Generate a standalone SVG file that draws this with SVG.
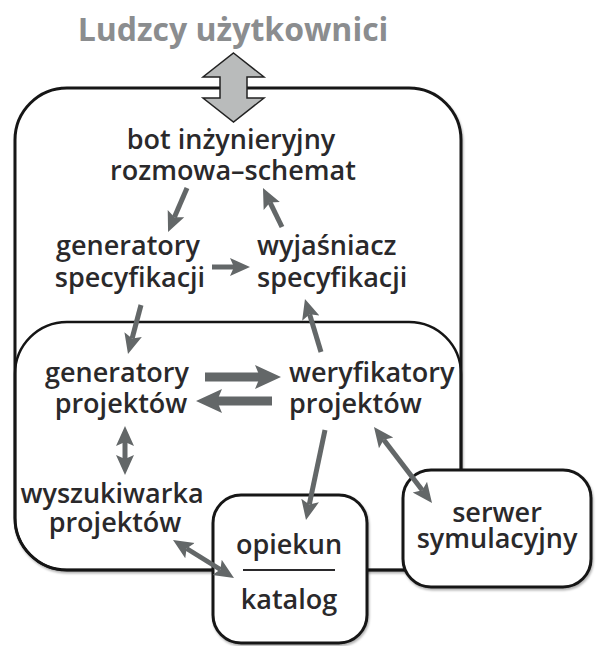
<svg xmlns="http://www.w3.org/2000/svg" width="596" height="646" viewBox="0 0 596 646">
<style>
  .t{font-family:"Open Sans","Liberation Sans",sans-serif;font-weight:600;font-size:27px;fill:#2a292b}
  .m{text-anchor:middle}
  .box{fill:#ffffff;stroke:#151515;stroke-width:3}
  .c{stroke:#636768;stroke-width:5;fill:none}
  .cb{stroke:#636768;stroke-width:9;fill:none}
</style>
<defs>
  <filter id="sh" x="-5%" y="-5%" width="110%" height="110%">
    <feDropShadow dx="1" dy="2" stdDeviation="1.2" flood-color="#000" flood-opacity="0.3"/>
  </filter>
  <marker id="ah" markerUnits="userSpaceOnUse" markerWidth="22" markerHeight="22" refX="4" refY="10" orient="auto-start-reverse">
    <path d="M0,1 L20,10 L0,19 L4,10 z" fill="#636768"/>
  </marker>
  <marker id="ahb" markerUnits="userSpaceOnUse" markerWidth="28" markerHeight="26" refX="5" refY="12" orient="auto-start-reverse">
    <path d="M0,0 L26,12 L0,24 L5,12 z" fill="#636768"/>
  </marker>
</defs>
<rect width="596" height="646" fill="#ffffff"/>

<g id="system">
  <rect class="box" x="15" y="88" width="446" height="482" rx="52" ry="52" filter="url(#sh)"/>
</g>
<g id="design-zone">
  <rect x="15" y="322" width="446" height="248" rx="52" ry="52" fill="none" stroke="#151515" stroke-width="2.5"/>
</g>

<g id="users">
  <text x="233" y="41" text-anchor="middle" font-family="'Open Sans','Liberation Sans',sans-serif" font-weight="700" font-size="32" fill="#8b8d8f">Ludzcy użytkownici</text>
  <polygon points="233.5,53 264,77 247,77 247,98 264,98 233.5,122 203,98 220,98 220,77 203,77" fill="#b9bbbb" stroke="#222" stroke-width="1.5" stroke-linejoin="miter"/>
</g>

<g id="bot">
  <text class="t m"><tspan x="231" y="149">bot inżynieryjny</tspan><tspan x="233" y="180">rozmowa–schemat</tspan></text>
</g>
<g id="spec-gen">
  <text class="t m"><tspan x="128" y="255">generatory</tspan><tspan x="130" y="287">specyfikacji</tspan></text>
</g>
<g id="spec-explainer">
  <text class="t"><tspan x="257" y="255">wyjaśniacz</tspan><tspan x="257" y="287">specyfikacji</tspan></text>
</g>
<g id="design-gen">
  <text class="t m"><tspan x="117" y="382">generatory</tspan><tspan x="121" y="413">projektów</tspan></text>
</g>
<g id="design-verifier">
  <text class="t"><tspan x="289" y="382">weryfikatory</tspan><tspan x="289" y="413">projektów</tspan></text>
</g>
<g id="design-search">
  <text class="t m"><tspan x="112" y="503">wyszukiwarka</tspan><tspan x="115" y="532">projektów</tspan></text>
</g>

<g id="catalog">
  <rect class="box" x="213" y="495" width="154" height="148" rx="28" ry="28" filter="url(#sh)"/>
  <text class="t m" x="289" y="554">opiekun</text>
  <line x1="243" y1="570" x2="335" y2="570" stroke="#2a292b" stroke-width="2"/>
  <text class="t m" x="289" y="609">katalog</text>
</g>
<g id="sim-server">
  <rect class="box" x="403" y="470" width="188" height="117" rx="28" ry="28" filter="url(#sh)"/>
  <text class="t m"><tspan x="497" y="522">serwer</tspan><tspan x="497" y="548">symulacyjny</tspan></text>
</g>

<g id="connectors">
  <line class="c" x1="187" y1="188" x2="174.4" y2="217.3" marker-end="url(#ah)"/>
  <line class="c" x1="282" y1="227" x2="270" y2="202.4" marker-end="url(#ah)"/>
  <line class="c" x1="212" y1="267" x2="234" y2="267" stroke-width="7" marker-end="url(#ah)"/>
  <line class="c" x1="141" y1="305" x2="132.1" y2="338.5" marker-end="url(#ah)"/>
  <line class="c" x1="321" y1="352" x2="309.6" y2="314.3" marker-end="url(#ah)"/>
  <line class="cb" x1="205" y1="377" x2="260" y2="377" marker-end="url(#ahb)"/>
  <line class="cb" x1="272" y1="401" x2="217" y2="401" marker-end="url(#ahb)"/>
  <line class="c" x1="125" y1="442" x2="125" y2="459" marker-start="url(#ah)" marker-end="url(#ah)"/>
  <line class="c" x1="325" y1="430" x2="309.3" y2="504.4" marker-end="url(#ah)"/>
  <line class="c" x1="383.7" y1="439.7" x2="422.3" y2="490.3" marker-start="url(#ah)" marker-end="url(#ah)"/>
  <line class="c" x1="186.6" y1="548.5" x2="220.4" y2="569.5" marker-start="url(#ah)" marker-end="url(#ah)"/>
</g>
</svg>
